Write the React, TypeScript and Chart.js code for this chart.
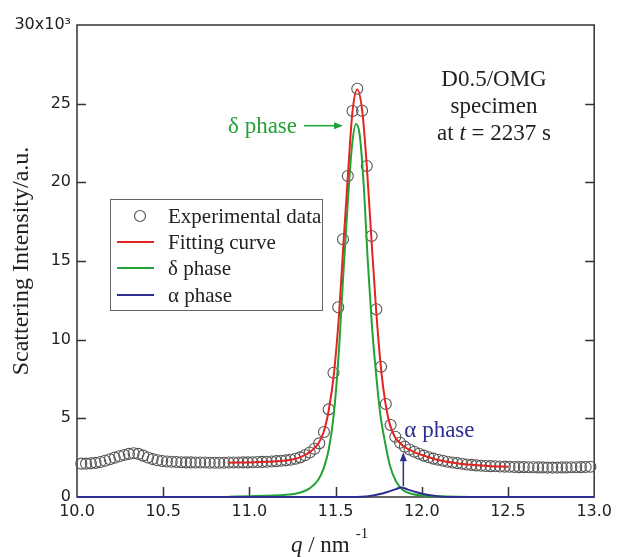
import React, { useEffect, useRef } from 'react';
import { Chart, registerables } from 'chart.js';

Chart.register(...registerables);

const SERIF = '"Liberation Serif", "Times New Roman", serif';
const SANS = '"DejaVu Sans", sans-serif';

const RED = '#e42420';
const GREEN = '#23a236';
const BLUE = '#2c2f8f';
const CIRCLE = '#555555';
const TEXT = '#222222';

// Experimental data (q in nm^-1, intensity in 10^3 a.u.)
const expQ = [
  10.025, 10.0526, 10.0802, 10.1078, 10.1354, 10.163, 10.1906, 10.2182, 10.2458, 10.2734,
  10.301, 10.3286, 10.3562, 10.3838, 10.4114, 10.439, 10.4666, 10.4942, 10.5218, 10.5494,
  10.577, 10.6046, 10.6322, 10.6598, 10.6874, 10.715, 10.7426, 10.7702, 10.7978, 10.8254,
  10.853, 10.8806, 10.9082, 10.9358, 10.9634, 10.991, 11.0186, 11.0462, 11.0738, 11.1014,
  11.129, 11.1566, 11.1842, 11.2118, 11.2394, 11.267, 11.2946, 11.3222, 11.3498, 11.3774,
  11.405, 11.4326, 11.4602, 11.4878, 11.5154, 11.543, 11.5706, 11.5982, 11.6258, 11.6534,
  11.681, 11.7086, 11.7362, 11.7638, 11.7914, 11.819, 11.8466, 11.8742, 11.9018, 11.9294,
  11.957, 11.9846, 12.0122, 12.0398, 12.0674, 12.095, 12.1226, 12.1502, 12.1778, 12.2054,
  12.233, 12.2606, 12.2882, 12.3158, 12.3434, 12.371, 12.3986, 12.4262, 12.4538, 12.4814,
  12.509, 12.5366, 12.5642, 12.5918, 12.6194, 12.647, 12.6746, 12.7022, 12.7298, 12.7574,
  12.785, 12.8126, 12.8402, 12.8678, 12.8954, 12.923, 12.9506, 12.9782,
];
const expI = [
  2.12, 2.12, 2.14, 2.17, 2.22, 2.30, 2.40, 2.50, 2.59, 2.67,
  2.74, 2.78, 2.74, 2.63, 2.51, 2.41, 2.34, 2.29, 2.26, 2.24,
  2.22, 2.21, 2.20, 2.20, 2.19, 2.19, 2.19, 2.18, 2.18, 2.18,
  2.18, 2.19, 2.19, 2.19, 2.20, 2.20, 2.21, 2.22, 2.23, 2.24,
  2.26, 2.28, 2.30, 2.33, 2.37, 2.43, 2.52, 2.65, 2.83, 3.07,
  3.41, 4.13, 5.57, 7.90, 12.06, 16.38, 20.40, 24.53, 25.95, 24.55,
  21.04, 16.59, 11.93, 8.28, 5.91, 4.58, 3.83, 3.45, 3.20, 3.02,
  2.88, 2.75, 2.63, 2.53, 2.44, 2.37, 2.30, 2.24, 2.19, 2.15,
  2.11, 2.07, 2.04, 2.01, 1.99, 1.97, 1.96, 1.95, 1.94, 1.93,
  1.92, 1.91, 1.90, 1.90, 1.89, 1.89, 1.88, 1.88, 1.87, 1.87,
  1.87, 1.88, 1.88, 1.89, 1.89, 1.90, 1.91, 1.92,
];

// Fitting curve
const fitQ = [
  10.88, 11.0, 11.1, 11.2, 11.25, 11.3, 11.35, 11.4, 11.43, 11.46, 11.49, 11.52, 11.545,
  11.57, 11.598, 11.626, 11.655, 11.68, 11.705, 11.735, 11.765, 11.79, 11.815, 11.845,
  11.875, 11.9, 11.95, 12.0, 12.1, 12.2, 12.3, 12.4, 12.5,
];
const fitI = [
  2.18, 2.2, 2.24, 2.31, 2.38, 2.55, 2.85, 3.4, 4.1, 5.5, 7.8, 11.6, 16.0,
  20.2, 24.5, 25.9, 24.5, 21.2, 16.9, 11.9, 8.0, 5.9, 4.6, 3.8,
  3.42, 3.18, 2.88, 2.67, 2.33, 2.15, 2.03, 1.96, 1.92,
];

// delta phase component
const deltaQ = [
  10.88, 11.0, 11.1, 11.2, 11.25, 11.3, 11.35, 11.4, 11.43, 11.46, 11.49, 11.52, 11.545,
  11.57, 11.595, 11.618, 11.64, 11.665, 11.685, 11.71, 11.735, 11.76, 11.79, 11.815,
  11.85, 11.89, 11.95, 12.0, 12.1, 12.2, 12.33,
];
const deltaI = [
  0.02, 0.05, 0.08, 0.13, 0.18, 0.3, 0.55, 1.1, 1.8, 3.0, 5.3, 9.4, 14.2,
  18.6, 22.3, 23.7, 23.0, 19.5, 15.3, 11.0, 7.8, 5.2, 3.3, 2.0,
  1.0, 0.45, 0.18, 0.1, 0.05, 0.02, 0.0,
];

// alpha phase component
const alphaQ = [10.0, 11.6, 11.65, 11.7, 11.75, 11.8, 11.85, 11.88, 11.92, 11.97, 12.03, 12.1, 12.16, 13.0];
const alphaI = [0, 0, 0.02, 0.07, 0.17, 0.32, 0.5, 0.6, 0.47, 0.3, 0.14, 0.04, 0, 0];

const xTicks = [10.0, 10.5, 11.0, 11.5, 12.0, 12.5, 13.0];
const yTicks = [0, 5, 10, 15, 20, 25, 30];

const legendLabels = ['Experimental data', 'Fitting curve', 'δ phase', 'α phase'];
const sampleLines = ['D0.5/OMG', 'specimen'];
const timeValue = '2237';

const pts = (xs: number[], ys: number[]) => xs.map((x, i) => ({ x, y: ys[i] }));

function arrow(ctx: CanvasRenderingContext2D, x1: number, y1: number, x2: number, y2: number, color: string) {
  const ang = Math.atan2(y2 - y1, x2 - x1);
  const hl = 9;
  const hw = 3.5;
  ctx.save();
  ctx.strokeStyle = color;
  ctx.fillStyle = color;
  ctx.lineWidth = 1.5;
  ctx.beginPath();
  ctx.moveTo(x1, y1);
  ctx.lineTo(x2 - Math.cos(ang) * hl, y2 - Math.sin(ang) * hl);
  ctx.stroke();
  ctx.beginPath();
  ctx.moveTo(x2, y2);
  ctx.lineTo(x2 - Math.cos(ang) * hl - Math.sin(ang) * hw, y2 - Math.sin(ang) * hl + Math.cos(ang) * hw);
  ctx.lineTo(x2 - Math.cos(ang) * hl + Math.sin(ang) * hw, y2 - Math.sin(ang) * hl - Math.cos(ang) * hw);
  ctx.closePath();
  ctx.fill();
  ctx.restore();
}

const framePlugin = {
  id: 'frame',
  beforeDatasetsDraw(chart: any) {
    const { ctx, chartArea: a, scales } = chart;
    ctx.save();
    ctx.strokeStyle = '#333';
    ctx.lineWidth = 1.5;
    ctx.strokeRect(a.left, a.top, a.right - a.left, a.bottom - a.top);
    ctx.beginPath();
    yTicks.slice(1, -1).forEach((v) => {
      const y = Math.round(scales.y.getPixelForValue(v)) + 0.5;
      ctx.moveTo(a.left, y);
      ctx.lineTo(a.left + 9, y);
      ctx.moveTo(a.right, y);
      ctx.lineTo(a.right - 9, y);
    });
    xTicks.slice(1, -1).forEach((v) => {
      const x = Math.round(scales.x.getPixelForValue(v)) + 0.5;
      ctx.moveTo(x, a.bottom);
      ctx.lineTo(x, a.bottom - 10);
    });
    ctx.stroke();
    ctx.restore();
  },
};

const annotatePlugin = {
  id: 'annotate',
  afterDraw(chart: any) {
    const { ctx, chartArea: a, scales } = chart;
    const sx = scales.x;
    const sy = scales.y;
    ctx.save();

    // Y title
    ctx.save();
    ctx.translate(22, (a.top + a.bottom) / 2);
    ctx.rotate(-Math.PI / 2);
    ctx.font = `24px ${SERIF}`;
    ctx.fillStyle = TEXT;
    ctx.textAlign = 'center';
    ctx.textBaseline = 'middle';
    ctx.fillText('Scattering Intensity/a.u.', 0, 0);
    ctx.restore();

    // X title: q / nm^-1
    ctx.textBaseline = 'alphabetic';
    ctx.textAlign = 'left';
    ctx.fillStyle = TEXT;
    ctx.font = `italic 23px ${SERIF}`;
    const wq = ctx.measureText('q').width;
    ctx.font = `23px ${SERIF}`;
    const wm = ctx.measureText(' / nm').width;
    ctx.font = `15px ${SERIF}`;
    const ws = ctx.measureText('-1').width;
    const total = wq + wm + 6 + ws;
    let xx = (a.left + a.right) / 2 - 6 - total / 2;
    const base = 552;
    ctx.font = `italic 23px ${SERIF}`;
    ctx.fillText('q', xx, base);
    xx += wq;
    ctx.font = `23px ${SERIF}`;
    ctx.fillText(' / nm', xx, base);
    xx += wm + 6;
    ctx.font = `15px ${SERIF}`;
    ctx.fillText('-1', xx, base - 14);

    // Sample text
    const cx = 494;
    ctx.font = `23px ${SERIF}`;
    ctx.textAlign = 'center';
    ctx.fillStyle = TEXT;
    ctx.fillText(sampleLines[0], cx, 86);
    ctx.fillText(sampleLines[1], cx, 113);
    const p1 = 'at ';
    const p3 = ` = ${timeValue} s`;
    ctx.font = `23px ${SERIF}`;
    const w1 = ctx.measureText(p1).width;
    const w3 = ctx.measureText(p3).width;
    ctx.font = `italic 23px ${SERIF}`;
    const w2 = ctx.measureText('t').width;
    let tx = cx - (w1 + w2 + w3) / 2;
    ctx.textAlign = 'left';
    ctx.font = `23px ${SERIF}`;
    ctx.fillText(p1, tx, 140);
    tx += w1;
    ctx.font = `italic 23px ${SERIF}`;
    ctx.fillText('t', tx, 140);
    tx += w2;
    ctx.font = `23px ${SERIF}`;
    ctx.fillText(p3, tx, 140);

    // delta phase label + arrow
    const dTipX = sx.getPixelForValue(11.543);
    const dTipY = sy.getPixelForValue(23.6);
    ctx.fillStyle = GREEN;
    ctx.font = `23px ${SERIF}`;
    ctx.textAlign = 'right';
    ctx.fillText('δ phase', dTipX - 46, dTipY + 7);
    arrow(ctx, dTipX - 39, dTipY, dTipX, dTipY, GREEN);

    // alpha phase label + arrow
    const aX = sx.getPixelForValue(11.893);
    const aY0 = sy.getPixelForValue(0.7);
    const aY1 = sy.getPixelForValue(2.85);
    arrow(ctx, aX, aY0, aX, aY1, BLUE);
    ctx.fillStyle = BLUE;
    ctx.textAlign = 'left';
    ctx.fillText('α phase', aX + 1, aY1 - 15);

    // Legend
    const lx = 110, ly = 199, lw = 212, lh = 111;
    ctx.fillStyle = '#fff';
    ctx.fillRect(lx, ly, lw, lh);
    ctx.strokeStyle = '#666';
    ctx.lineWidth = 1;
    ctx.strokeRect(lx + 0.5, ly + 0.5, lw, lh);
    const rows = [216, 242, 268, 295];
    const colors = [CIRCLE, RED, GREEN, BLUE];
    rows.forEach((ry, i) => {
      if (i === 0) {
        ctx.strokeStyle = CIRCLE;
        ctx.lineWidth = 1.2;
        ctx.beginPath();
        ctx.arc(140, ry, 5.5, 0, Math.PI * 2);
        ctx.stroke();
      } else {
        ctx.strokeStyle = colors[i];
        ctx.lineWidth = 2;
        ctx.beginPath();
        ctx.moveTo(117, ry);
        ctx.lineTo(154, ry);
        ctx.stroke();
      }
      ctx.fillStyle = TEXT;
      ctx.font = `21px ${SERIF}`;
      ctx.textAlign = 'left';
      ctx.textBaseline = 'middle';
      ctx.fillText(legendLabels[i], 168, ry + 1);
    });

    ctx.restore();
  },
};

export default function App() {
  const ref = useRef<HTMLCanvasElement | null>(null);

  useEffect(() => {
    if (!ref.current) return;
    const chart = new Chart(ref.current, {
      type: 'scatter',
      data: {
        datasets: [
          {
            label: 'α phase',
            data: pts(alphaQ, alphaI),
            showLine: true,
            borderColor: BLUE,
            borderWidth: 2,
            pointRadius: 0,
            cubicInterpolationMode: 'monotone',
            order: 1,
            clip: 6,
          } as any,
          {
            label: 'Fitting curve',
            data: pts(fitQ, fitI),
            showLine: true,
            borderColor: RED,
            borderWidth: 2,
            pointRadius: 0,
            cubicInterpolationMode: 'monotone',
            order: 2,
            clip: 6,
          },
          {
            label: 'δ phase',
            data: pts(deltaQ, deltaI),
            showLine: true,
            borderColor: GREEN,
            borderWidth: 2,
            pointRadius: 0,
            cubicInterpolationMode: 'monotone',
            order: 3,
            clip: 6,
          },
          {
            label: 'Experimental data',
            data: pts(expQ, expI),
            showLine: false,
            pointRadius: 5.5,
            pointBorderWidth: 1.1,
            pointBorderColor: CIRCLE,
            pointBackgroundColor: 'rgba(0,0,0,0)',
            order: 4,
            clip: 8,
          },
        ],
      },
      options: {
        responsive: false,
        animation: false,
        events: [],
        layout: { padding: { left: 0, right: 18, top: 25, bottom: 0 } },
        plugins: { legend: { display: false }, tooltip: { enabled: false } },
        scales: {
          x: {
            type: 'linear',
            min: 10,
            max: 13,
            afterFit: (s: any) => {
              s.height = 60;
            },
            grid: { display: false, drawTicks: false },
            border: { display: false },
            ticks: {
              stepSize: 0.5,
              autoSkip: false,
              maxRotation: 0,
              padding: 5,
              color: TEXT,
              font: { family: SANS, size: 16 },
              callback: (v: any) => Number(v).toFixed(1),
            },
          },
          y: {
            min: 0,
            max: 30,
            afterFit: (s: any) => {
              s.width = 77;
            },
            grid: { display: false, drawTicks: false },
            border: { display: false },
            ticks: {
              stepSize: 5,
              padding: 6,
              color: TEXT,
              font: { family: SANS, size: 16 },
              callback: (v: any) => (Number(v) === 30 ? '30x10³' : String(v)),
            },
          },
        },
      },
      plugins: [framePlugin, annotatePlugin],
    });
    return () => chart.destroy();
  }, []);

  return (
    <div style={{ position: 'absolute', left: 0, top: 0, width: 617, height: 557, background: '#fff' }}>
      <canvas ref={ref} width={617} height={557} style={{ display: 'block' }} />
    </div>
  );
}
